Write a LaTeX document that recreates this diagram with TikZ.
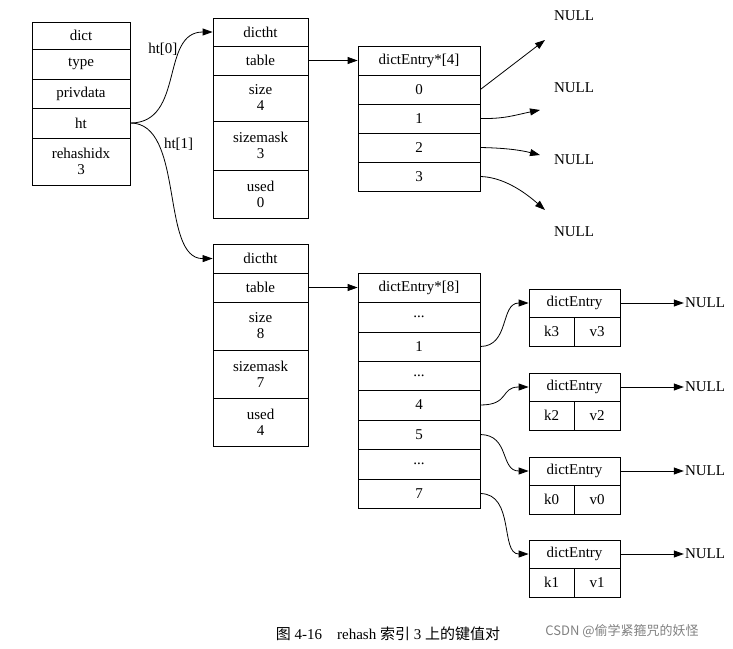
\documentclass[tikz,border=0pt]{standalone}
\usepackage{fontspec}
\setmainfont{Liberation Serif}
\newfontfamily\cjk{Noto Sans CJK SC}
\usetikzlibrary{arrows.meta}
\newcommand{\cel}[6]{\node[cell,minimum width={(#4-#2)*1pt},minimum height={(#5-#3)*1pt}] (#1) at ({(#2+#4)/2},{(#3+#5)/2}) {#6};}
\begin{document}
\begin{tikzpicture}[x=1pt,y=-1pt,font=\fontsize{15}{16}\selectfont,
 cell/.style={draw,thick,inner sep=0pt,align=center,line width=0.8pt},
 arr/.style={-{Triangle[length=10pt,width=7pt]},line width=0.8pt},
 lab/.style={inner sep=1pt}]
\useasboundingbox (0,0) rectangle (733,648);
% dict
\cel{d0}{32}{22}{130}{49}{dict}
\cel{d1}{32}{49}{130}{79}{type}
\cel{d2}{32}{79}{130}{108}{privdata}
\cel{ht}{32}{108}{130}{138}{ht}
\cel{d4}{32}{138}{130}{185}{rehashidx\\3}
% dictht 0
\cel{a0}{213}{18}{308}{46}{dictht}
\cel{a1}{213}{46}{308}{75}{table}
\cel{a2}{213}{75}{308}{121}{size\\4}
\cel{a3}{213}{121}{308}{170}{sizemask\\3}
\cel{a4}{213}{170}{308}{218}{used\\0}
% dictht 1
\cel{b0}{213}{244}{308}{273}{dictht}
\cel{b1}{213}{273}{308}{302}{table}
\cel{b2}{213}{302}{308}{350}{size\\8}
\cel{b3}{213}{350}{308}{398}{sizemask\\7}
\cel{b4}{213}{398}{308}{446}{used\\4}
% entries 4
\cel{e4h}{358}{46}{480}{75}{dictEntry*[4]}
\cel{e40}{358}{75}{480}{104}{0}
\cel{e41}{358}{104}{480}{133}{1}
\cel{e42}{358}{133}{480}{162}{2}
\cel{e43}{358}{162}{480}{191}{3}
% entries 8
\cel{e8h}{358}{273}{480}{302}{dictEntry*[8]}
\cel{e80}{358}{302}{480}{332}{...}
\cel{e81}{358}{332}{480}{361}{1}
\cel{e82}{358}{361}{480}{390}{...}
\cel{e84}{358}{390}{480}{420}{4}
\cel{e85}{358}{420}{480}{449}{5}
\cel{e86}{358}{449}{480}{479}{...}
\cel{e87}{358}{479}{480}{508}{7}
% dictEntry nodes
\cel{n1}{529}{289}{620}{317}{dictEntry}
\cel{n1k}{529}{317}{574}{346}{k3}
\cel{n1v}{574}{317}{620}{346}{v3}
\cel{n2}{529}{373}{620}{401}{dictEntry}
\cel{n2k}{529}{401}{574}{430}{k2}
\cel{n2v}{574}{401}{620}{430}{v2}
\cel{n3}{529}{457}{620}{485}{dictEntry}
\cel{n3k}{529}{485}{574}{514}{k0}
\cel{n3v}{574}{485}{620}{514}{v0}
\cel{n4}{529}{540}{620}{568}{dictEntry}
\cel{n4k}{529}{568}{574}{597}{k1}
\cel{n4v}{574}{568}{620}{597}{v1}
% NULLs
\node[lab] (u0) at (574,16) {NULL};
\node[lab] (u1) at (574,88) {NULL};
\node[lab] (u2) at (574,160) {NULL};
\node[lab] (u3) at (574,232) {NULL};
\node[lab] (m1) at (705,303) {NULL};
\node[lab] (m2) at (705,387) {NULL};
\node[lab] (m3) at (705,471) {NULL};
\node[lab] (m4) at (705,554) {NULL};
\coordinate (c0) at (545,40);
\coordinate (c1) at (540,110);
\coordinate (c2) at (540,155);
\coordinate (c3) at (545,210);
% connectors
\draw[arr] (ht.east) .. controls (185,123) and (160,32) .. (a0.west) node[pos=0.65,above left=-2pt] {ht[0]};
\draw[arr] (ht.east) .. controls (185,123) and (160,259) .. (b0.west) node[pos=0.3,above right=-2pt] {ht[1]};
\node at (173,32) {};
\draw[arr] (a1.east) -- (e4h.west);
\draw[arr] (b1.east) -- (e8h.west);
\draw[arr] (e40.east) -- (c0);
\draw[arr] (e41.east) .. controls (505,119) and (515,115) .. (c1);
\draw[arr] (e42.east) .. controls (505,148) and (520,150) .. (c2);
\draw[arr] (e43.east) .. controls (500,177) and (520,188) .. (c3);
\draw[arr] (e81.east) .. controls (510,346) and (500,303) .. (n1.west);
\draw[arr] (e84.east) .. controls (510,405) and (500,387) .. (n2.west);
\draw[arr] (e85.east) .. controls (510,435) and (500,471) .. (n3.west);
\draw[arr] (e87.east) .. controls (515,494) and (500,554) .. (n4.west);
\draw[arr] (n1.east) -- (m1.west);
\draw[arr] (n2.east) -- (m2.west);
\draw[arr] (n3.east) -- (m3.west);
\draw[arr] (n4.east) -- (m4.west);
% caption
\node[lab] (cap) at (388,634) {{\cjk 图} 4-16\quad rehash {\cjk 索引} 3 {\cjk 上的键值对}};
\node[lab,text=gray,font=\cjk\fontsize{13}{14}\selectfont] (wm) at (622,631) {CSDN @偷学紧箍咒的妖怪};
\end{tikzpicture}
\end{document}
